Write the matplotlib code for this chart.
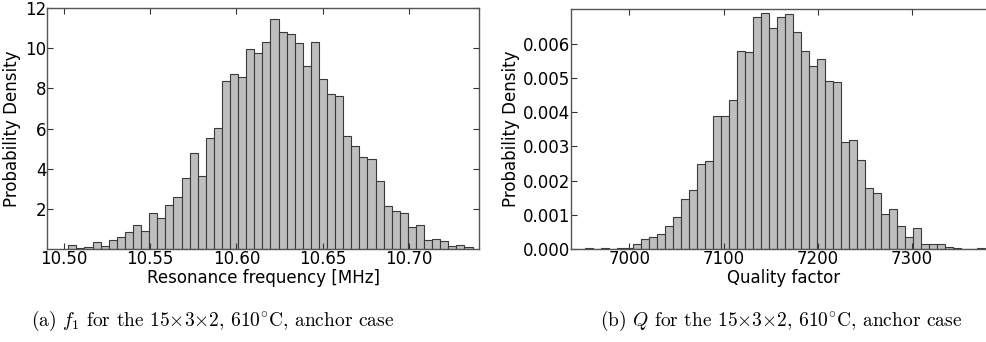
import numpy as np
import matplotlib
matplotlib.use('Agg')
import matplotlib.pyplot as plt

plt.rcParams['font.family'] = 'DejaVu Sans'
plt.rcParams['mathtext.fontset'] = 'cm'

# histogram of resonance frequency (density), 50 equal bins
freq_bin_lo, freq_bin_hi = 10.5025, 10.7369
freq_density = [0.2, 0.05, 0.1, 0.35, 0.15, 0.45, 0.6, 0.85, 1.2, 0.9,
                1.8, 1.55, 2.2, 2.6, 3.55, 4.8, 3.65, 5.55, 6.05, 8.35,
                8.7, 8.55, 9.95, 9.75, 10.3, 11.45, 10.8, 10.7, 10.25, 9.1,
                10.3, 8.45, 7.7, 7.6, 5.65, 5.15, 4.6, 4.5, 3.4, 2.15,
                1.9, 1.8, 1.1, 1.2, 0.45, 0.5, 0.4, 0.15, 0.2, 0.1]
freq_ticks = [10.50, 10.55, 10.60, 10.65, 10.70]
freq_yticks = [2, 4, 6, 8, 10, 12]

# histogram of quality factor (density), 50 equal bins
q_bin_lo, q_bin_hi = 6953.0, 7378.0
q_density = [0.00002, 0.0, 0.00003, 0.00001, 0.00002, 0.00004, 0.00015, 0.0003, 0.00036, 0.00044,
             0.00066, 0.00094, 0.00145, 0.00174, 0.00248, 0.00258, 0.0039, 0.0039, 0.00437, 0.0058,
             0.00576, 0.0068, 0.00689, 0.00646, 0.0068, 0.00686, 0.00636, 0.0058, 0.00535, 0.00555,
             0.00491, 0.00488, 0.00313, 0.0032, 0.0026, 0.00177, 0.00164, 0.00101, 0.00116, 0.00066,
             0.00036, 0.0006, 0.00015, 0.00015, 0.00015, 0.00005, 0.00003, 0.00001, 0.00001, 0.00002]
q_ticks = [7000, 7100, 7200, 7300]
q_yticks = [0.000, 0.001, 0.002, 0.003, 0.004, 0.005, 0.006]

caption_a = r'(a) $f_1$ for the 15$\times$3$\times$2, 610$^{\circ}$C, anchor case'
caption_b = r'(b) $Q$ for the 15$\times$3$\times$2, 610$^{\circ}$C, anchor case'

fig = plt.figure(figsize=(9.87, 3.42), dpi=100)
ax1 = fig.add_axes([0.0479, 0.2719, 0.4372, 0.7047])
# right panel runs past the image edge (cropped figure), so no right spine
ax2 = fig.add_axes([0.5785, 0.2719, 0.4306, 0.7018])


def draw_hist(ax, lo, hi, heights):
    edges = np.linspace(lo, hi, len(heights) + 1)
    ax.bar(edges[:-1], heights, width=np.diff(edges), align='edge',
           facecolor='#bebebe', edgecolor='#3a3a3a', linewidth=0.8)
    for s in ax.spines.values():
        s.set_color('#555555')
        s.set_linewidth(1.0)
    ax.tick_params(direction='in', top=True, right=True, length=4, width=0.8,
                   color='#333333', labelsize=12)
    ax.tick_params(axis='y', pad=0.5)
    ax.tick_params(axis='x', pad=1)


draw_hist(ax1, freq_bin_lo, freq_bin_hi, freq_density)
ax1.set_xlim(10.4903, 10.7405)
ax1.set_ylim(0, 12)
ax1.set_xticks(freq_ticks)
ax1.set_xticklabels(['%.2f' % t for t in freq_ticks])
ax1.set_yticks(freq_yticks)
ax1.set_xlabel('Resonance frequency [MHz]', fontsize=12, labelpad=0.5)
ax1.set_ylabel('Probability Density', fontsize=12, labelpad=3)

draw_hist(ax2, q_bin_lo, q_bin_hi, q_density)
ax2.set_xlim(6938.1, 7389.2)
ax2.set_ylim(0, 0.00702)
ax2.set_xticks(q_ticks)
ax2.set_yticks(q_yticks)
ax2.set_yticklabels(['%.3f' % t for t in q_yticks])
ax2.set_xlabel('Quality factor', fontsize=12, labelpad=0.5)
ax2.set_ylabel('Probability Density', fontsize=12, labelpad=2)

fig.text(31 / 987, 1 - 326 / 342, caption_a, family='cmr10', fontsize=14, va='baseline')
fig.text(600 / 987, 1 - 326 / 342, caption_b, family='cmr10', fontsize=14, va='baseline')

fig.savefig('out.png', dpi=100)
